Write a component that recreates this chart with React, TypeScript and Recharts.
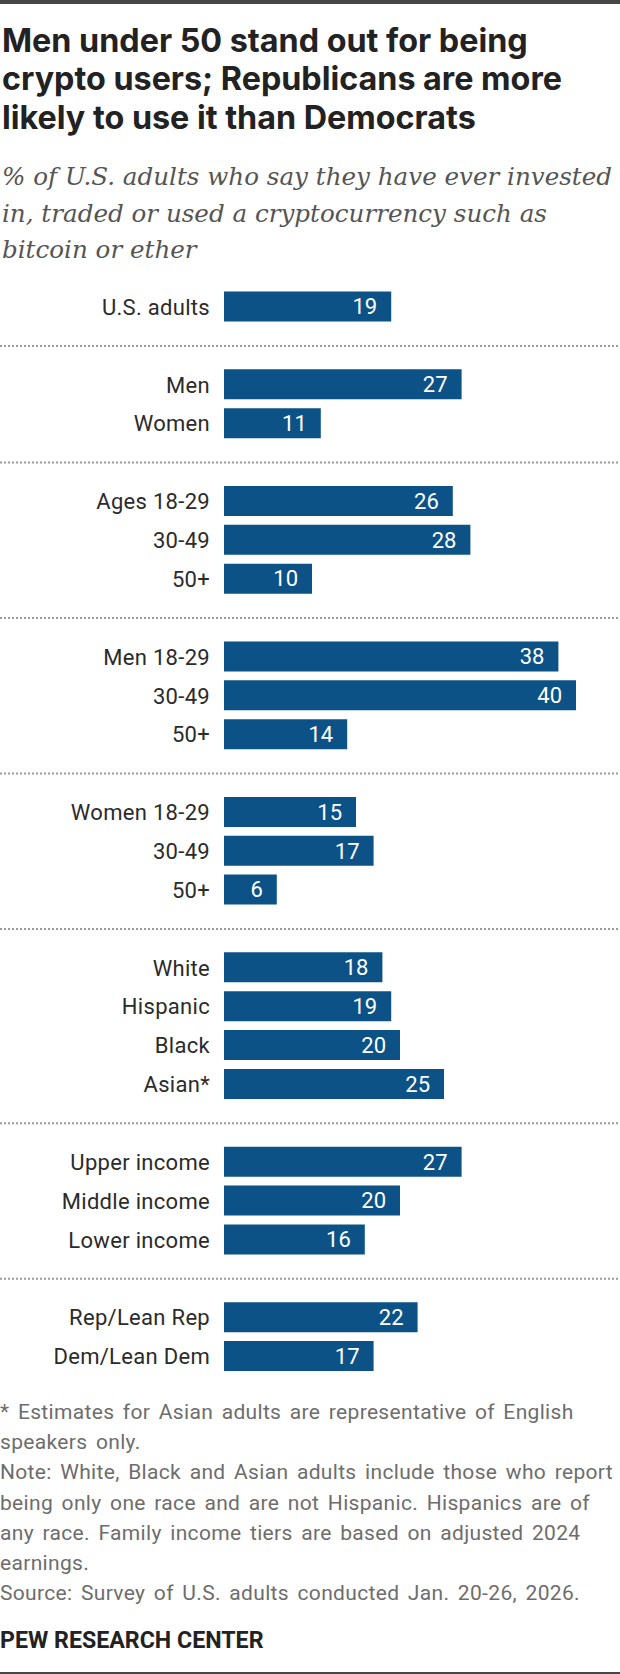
import { BarChart, Bar, XAxis, YAxis, LabelList, ReferenceLine } from "recharts";

const GROUP_LABELS = [
  ["U.S. adults"],
  ["Men", "Women"],
  ["Ages 18-29", "30-49", "50+"],
  ["Men 18-29", "30-49", "50+"],
  ["Women 18-29", "30-49", "50+"],
  ["White", "Hispanic", "Black", "Asian*"],
  ["Upper income", "Middle income", "Lower income"],
  ["Rep/Lean Rep", "Dem/Lean Dem"],
];

const GROUP_VALUES = [
  [19],
  [27, 11],
  [26, 28, 10],
  [38, 40, 14],
  [15, 17, 6],
  [18, 19, 20, 25],
  [27, 20, 16],
  [22, 17],
];

const TITLE = [
  "Men under 50 stand out for being",
  "crypto users; Republicans are more",
  "likely to use it than Democrats",
];

const SUBTITLE = [
  "% of U.S. adults who say they have ever invested",
  "in, traded or used a cryptocurrency such as",
  "bitcoin or ether",
];

const NOTES = [
  "* Estimates for Asian adults are representative of English",
  "speakers only.",
  "Note: White, Black and Asian adults include those who report",
  "being only one race and are not Hispanic. Hispanics are of",
  "any race. Family income tiers are based on adjusted 2024",
  "earnings.",
  "Source: Survey of U.S. adults conducted Jan. 20-26, 2026.",
];

type Row = { key: string; label: string; value: number | null };

// one row per bar, plus an empty row where the dotted rule sits
const rows: Row[] = [];
GROUP_LABELS.forEach((labels, g) => {
  if (g > 0) rows.push({ key: `sep${g}`, label: "", value: null });
  labels.forEach((label, i) =>
    rows.push({ key: `g${g}r${i}`, label, value: GROUP_VALUES[g][i] })
  );
});
const separators = rows.filter((r) => r.value === null).map((r) => r.key);
const labelByKey: Record<string, string> = Object.fromEntries(
  rows.map((r) => [r.key, r.label])
);

const BLUE = "#0d5286";
const SANS = "Roboto, 'Liberation Sans', sans-serif";

const DottedRule = (props: any) => (
  <line
    x1={0}
    x2={620}
    y1={props.y1}
    y2={props.y1}
    stroke="#9b9b9b"
    strokeWidth={2}
    strokeDasharray="2 2"
  />
);

export default function App() {
  return (
    <div style={{ position: "relative", width: 620, height: 1674, background: "#fff" }}>
      <style>{`body{margin:0}`}</style>
      <svg
        width={620}
        height={1674}
        style={{ position: "absolute", left: 0, top: 0 }}
      >
        <rect x={0} y={0} width={620} height={4} fill="#464646" />
        {TITLE.map((t, i) => (
          <text
            key={t}
            x={2}
            y={52 + i * 38.3}
            fontFamily="Inter, Roboto, sans-serif"
            fontWeight={700}
            fontSize={32.3}
            fill="#222"
          >
            {t}
          </text>
        ))}
        {SUBTITLE.map((t, i) => (
          <text
            key={t}
            x={2}
            y={185 + i * 36.5}
            fontFamily="'DejaVu Serif', serif"
            fontStyle="italic"
            fontSize={24.6}
            fill="#555"
          >
            {t}
          </text>
        ))}
        {NOTES.map((t, i) => (
          <text
            key={t}
            x={0}
            y={1419 + i * 30.17}
            fontFamily={SANS}
            fontSize={21}
            letterSpacing={0.33}
            wordSpacing={3}
            fill="#6d6d6d"
          >
            {t}
          </text>
        ))}
        <text
          x={0}
          y={1648}
          fontFamily={SANS}
          fontWeight={700}
          fontSize={23.2}
          fill="#222"
        >
          PEW RESEARCH CENTER
        </text>
        <rect x={0} y={1672} width={620} height={2} fill="#464646" />
      </svg>
      <div style={{ position: "absolute", left: 0, top: 280 }}>
        <BarChart
          width={620}
          height={1100}
          data={rows}
          layout="vertical"
          margin={{ top: 7.6, right: 44, bottom: 4.1, left: 0 }}
          barSize={30}
        >
          <XAxis type="number" domain={[0, 40]} hide />
          <YAxis
            type="category"
            dataKey="key"
            width={224}
            axisLine={false}
            tickLine={false}
            tickSize={0}
            tickMargin={14}
            interval={0}
            tickFormatter={(k: string) => labelByKey[k] ?? ""}
            tick={{ fontFamily: SANS, fontSize: 22, letterSpacing: 0.3, fill: "#2b2b2b" }}
          />
          {separators.map((k) => (
            <ReferenceLine key={k} y={k} shape={DottedRule} />
          ))}
          <Bar dataKey="value" fill={BLUE} isAnimationActive={false}>
            <LabelList
              dataKey="value"
              position="insideRight"
              offset={14}
              fill="#fff"
              fontFamily={SANS}
              fontSize={22}
              formatter={(v: any) => (v == null ? "" : v)}
            />
          </Bar>
        </BarChart>
      </div>
    </div>
  );
}
